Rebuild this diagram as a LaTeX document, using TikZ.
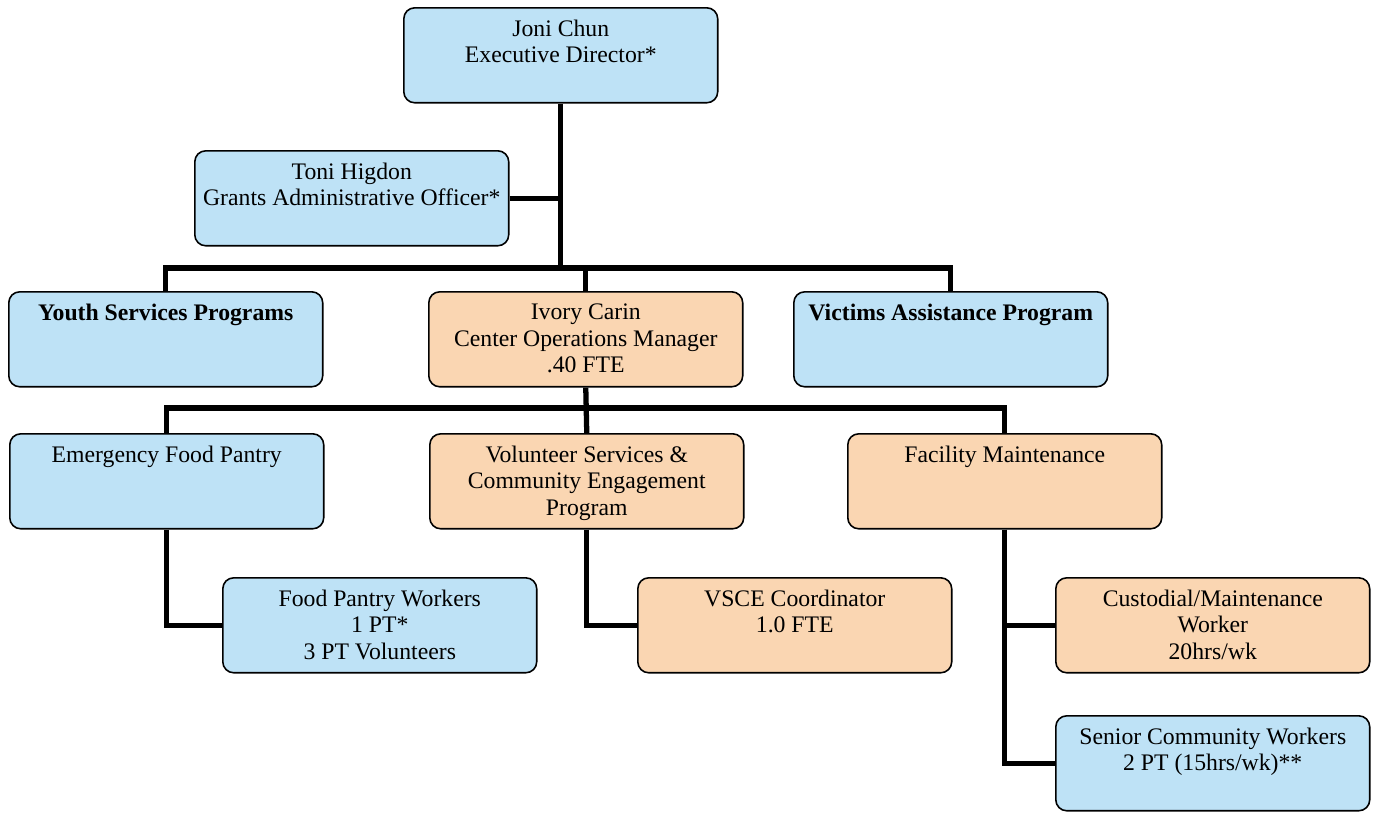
\documentclass[tikz,border=0pt]{standalone}
\usepackage{fontspec}
\setmainfont{Liberation Serif}
\usepackage{tikz}
\usetikzlibrary{arrows}

\definecolor{skyblue}{RGB}{190,226,246}
\definecolor{peach}{RGB}{250,214,178}

\tikzset{
	unit/.style={draw=black, line width=0.9pt, rounded corners=0.22cm, inner sep=0pt,
		anchor=north west, font=\fontsize{13.5}{15}\selectfont,
		execute at begin node={\begin{minipage}[c][1.9cm][t]{6.28cm}\centering\vspace*{7pt}},
		execute at end node={\end{minipage}}},
	blueunit/.style={unit, fill=skyblue},
	peachunit/.style={unit, fill=peach},
	link/.style={line width=3pt}
}

\begin{document}
\begin{tikzpicture}[x=0.02cm,y=-0.02cm,>=latex]
	%\draw [help lines] (0,0) grid (1379,812);
	\useasboundingbox (0,0) rectangle (1379,812);
	%Direzione
	\node [blueunit] (joni) at (403,7) {Joni Chun\\Executive Director*};
	\node [blueunit] (toni) at (194,150) {Toni Higdon\\Grants Administrative Officer*};
	%Programmi
	\node [blueunit] (youth) at (8,291) {\textbf{Youth Services Programs}};
	\node [peachunit] (ivory) at (428,291) {Ivory Carin\\Center Operations Manager\\.40 FTE};
	\node [blueunit] (victims) at (793,291) {\textbf{Victims Assistance Program}};
	%Servizi
	\node [blueunit] (pantry) at (9,433) {Emergency Food Pantry};
	\node [peachunit] (volunteer) at (429,433) {Volunteer Services \&\\Community Engagement\\Program};
	\node [peachunit] (facility) at (847,433) {Facility Maintenance};
	%Personale
	\node [blueunit] (workers) at (222,577) {Food Pantry Workers\\1 PT*\\3 PT Volunteers};
	\node [peachunit] (vsce) at (637,577) {VSCE Coordinator\\1.0 FTE};
	\node [peachunit] (custodial) at (1055,577) {Custodial/Maintenance\\Worker\\20hrs/wk};
	\node [blueunit] (senior) at (1055,715) {Senior Community Workers\\2 PT (15hrs/wk)**};
	%Collegamenti
	\coordinate (bar1) at (0,268);
	\draw [link] (joni.south) -- (joni.south |- bar1);
	\draw [link] (toni.east) -- (toni.east -| joni.south);
	\draw [link] (youth.north) -- (youth.north |- bar1) -| (victims.north);
	\draw [link] (ivory.north) -- (ivory.north |- bar1);
	\draw [link] (pantry.north) -- ++(0,-25) -| (facility.north);
	\draw [link] (ivory.south) -- (volunteer.north);
	\draw [link] (pantry.south) |- (workers.west);
	\draw [link] (volunteer.south) |- (vsce.west);
	\draw [link] (facility.south) |- (custodial.west);
	\draw [link] (facility.south) |- (senior.west);
\end{tikzpicture}
\end{document}
